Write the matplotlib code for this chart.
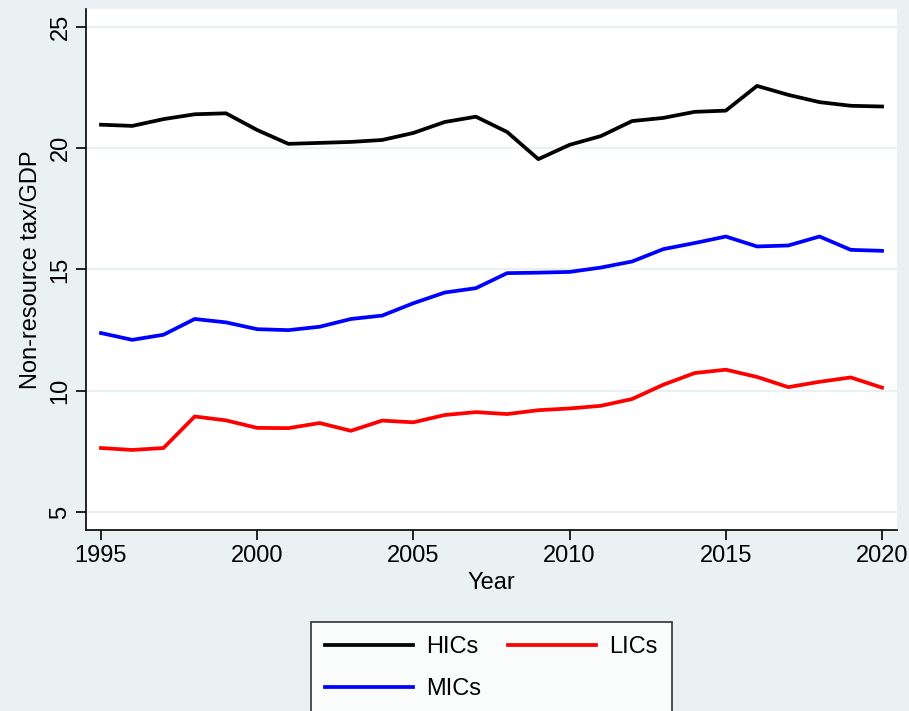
import matplotlib.pyplot as plt
from matplotlib.lines import Line2D

plt.rcParams['font.family'] = ['Liberation Sans', 'DejaVu Sans']

years = list(range(1995, 2021))
hics = [20.97, 20.92, 21.2, 21.4, 21.44, 20.75, 20.18, 20.22, 20.26, 20.34,
        20.63, 21.08, 21.3, 20.67, 19.55, 20.14, 20.5, 21.12, 21.25, 21.5,
        21.55, 22.57, 22.2, 21.9, 21.75, 21.72]
mics = [12.38, 12.1, 12.31, 12.96, 12.82, 12.54, 12.5, 12.64, 12.96, 13.1,
        13.61, 14.05, 14.23, 14.85, 14.87, 14.9, 15.08, 15.33, 15.84, 16.09,
        16.36, 15.95, 15.99, 16.36, 15.81, 15.77]
lics = [7.64, 7.56, 7.64, 8.94, 8.78, 8.47, 8.46, 8.67, 8.35, 8.77,
        8.70, 9.0, 9.12, 9.04, 9.2, 9.27, 9.38, 9.66, 10.25, 10.73,
        10.87, 10.57, 10.15, 10.37, 10.55, 10.13]
xticks = [1995, 2000, 2005, 2010, 2015, 2020]
yticks = [5, 10, 15, 20, 25]

bg = '#eaf1f3'
fig = plt.figure(figsize=(9.09, 7.11), dpi=100, facecolor=bg)
ax = fig.add_axes([86/909, 1-530/711, 811/909, 521/711])
ax.set_facecolor('white')

ax.plot(years, hics, color='black', lw=2.7, label='HICs')
ax.plot(years, mics, color='#0000ff', lw=2.7, label='MICs')
ax.plot(years, lics, color='#ff0000', lw=2.7, label='LICs')

ax.set_xlim(1994.52, 2020.48)
ax.set_ylim(4.26, 25.74)
ax.set_xticks(xticks)
ax.set_yticks(yticks)
ax.grid(axis='y', color=bg, lw=1.5)
ax.set_axisbelow(True)
for s in ['top', 'right']:
    ax.spines[s].set_visible(False)
for s in ['left', 'bottom']:
    ax.spines[s].set_linewidth(1.2)
ax.tick_params(axis='both', length=7, width=1.2, labelsize=17, direction='out')
ax.tick_params(axis='y', labelrotation=90)
for lab in ax.get_yticklabels():
    lab.set_va('center')

ax.set_xlabel('Year', fontsize=17, labelpad=4)
ax.set_ylabel('Non-resource tax/GDP', fontsize=17, labelpad=5)

h = [Line2D([], [], color='black', lw=2.7),
     Line2D([], [], color='#0000ff', lw=2.7),
     Line2D([], [], color='#ff0000', lw=2.7)]
leg = fig.legend(h, ['HICs', 'MICs', 'LICs'], ncol=2, loc='upper left',
                 bbox_to_anchor=(311/909, 1-622/711), fontsize=17,
                 frameon=True, fancybox=False, handlelength=3.7,
                 handletextpad=0.58, columnspacing=1.15, borderpad=0.6,
                 borderaxespad=0, labelspacing=0.85)
leg.get_frame().set_edgecolor('black')
leg.get_frame().set_linewidth(1.2)

fig.savefig('out.png', dpi=100, facecolor=bg)
